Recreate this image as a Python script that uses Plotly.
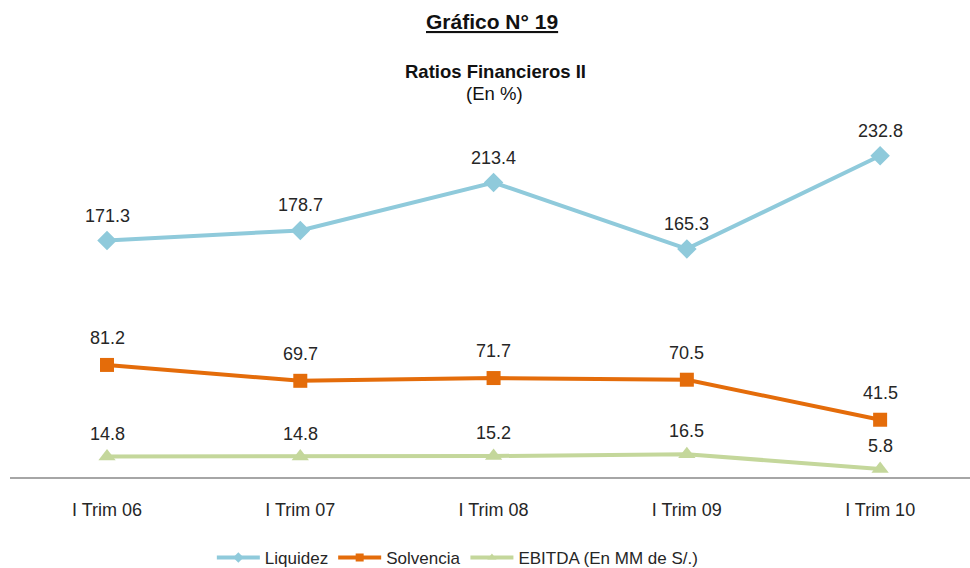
import plotly.graph_objects as go

categories = ["I Trim 06", "I Trim 07", "I Trim 08", "I Trim 09", "I Trim 10"]
liquidez = [171.3, 178.7, 213.4, 165.3, 232.8]
solvencia = [81.2, 69.7, 71.7, 70.5, 41.5]
ebitda = [14.8, 14.8, 15.2, 16.5, 5.8]

xs = list(range(len(categories)))
FONT = "Liberation Sans, Arial, sans-serif"
TXT = "#262626"

fig = go.Figure()
series = [
    ("Liquidez", liquidez, "#8FCADB", "diamond", 15, 25),
    ("Solvencia", solvencia, "#E46C0A", "square", 14, 27),
    ("EBITDA (En MM de S/.)", ebitda, "#C4D79B", "triangle-up", 15, 23),
]
for name, vals, col, sym, sz, shift in series:
    fig.add_trace(go.Scatter(
        x=xs, y=vals, name=name, mode="lines+markers",
        line=dict(color=col, width=4),
        marker=dict(color=col, symbol=sym, size=sz),
        cliponaxis=False, showlegend=False,
    ))
    for xi, v in zip(xs, vals):
        fig.add_annotation(x=xi, y=v, text=f"{v:.1f}", showarrow=False, yanchor="middle",
                           yshift=shift, font=dict(family=FONT, size=18, color=TXT))
# legend entries with small markers
for name, vals, col, sym, sz, shift in series:
    fig.add_trace(go.Scatter(
        x=[None], y=[None], name=name, mode="lines+markers",
        line=dict(color=col, width=4),
        marker=dict(color=col, symbol=sym, size=8),
        showlegend=True,
    ))

fig.update_layout(
    width=970, height=568,
    paper_bgcolor="white", plot_bgcolor="white",
    margin=dict(l=10, r=0, t=132, b=91),
    legend=dict(orientation="h", x=0.472, xanchor="center", xref="container",
                y=10 / 568, yanchor="middle", yref="container",
                font=dict(family=FONT, size=17, color=TXT),
                traceorder="normal", tracegroupgap=0, itemwidth=43),
    xaxis=dict(range=[-0.502, 4.465], tickmode="array", tickvals=xs, ticktext=categories,
               showgrid=False, zeroline=False, showline=True, linecolor="#A6A6A6", linewidth=2,
               ticks="", tickfont=dict(family=FONT, size=18, color=TXT), ticklabelstandoff=15,
               automargin=False),
    yaxis=dict(range=[0, 250], visible=False, showgrid=False, zeroline=False, automargin=False),
)

plot_h = 568 - 132 - 91
def py(pix):
    return (568 - 91 - pix) / plot_h

fig.add_annotation(text="<b><u>Gráfico N° 19</u></b>", x=0.502, y=py(22), xref="paper", yref="paper",
                   showarrow=False, font=dict(family=FONT, size=21, color="#111111"),
                   yanchor="middle")
fig.add_annotation(text="<b>Ratios Financieros II</b>", x=0.506, y=py(72), xref="paper", yref="paper",
                   showarrow=False, font=dict(family=FONT, size=18.5, color="#111111"), yanchor="middle")
fig.add_annotation(text="(En %)", x=0.505, y=py(93), xref="paper", yref="paper",
                   showarrow=False, font=dict(family=FONT, size=18.5, color="#111111"), yanchor="middle")

fig.write_html("out.html", config={"displayModeBar": False},
               post_script="document.body.style.margin='0';document.body.style.overflow='hidden';")
